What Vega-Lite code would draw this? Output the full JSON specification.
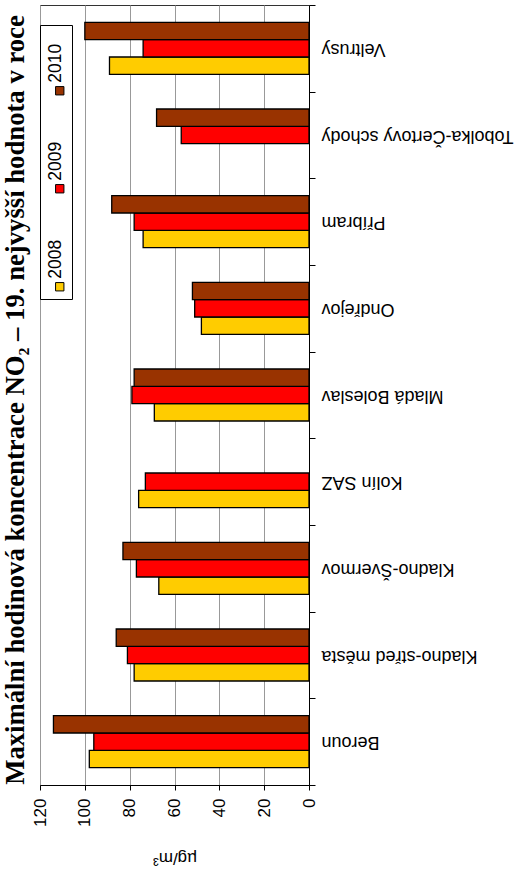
{
  "$schema": "https://vega.github.io/schema/vega-lite/v6.json",
  "width": 269,
  "height": 780,
  "autosize": {"type": "none"},
  "padding": {"left": 40, "top": 5, "right": 216, "bottom": 87},
  "background": "white",
  "title": {
    "text": "Maximální hodinová koncentrace NO₂ – 19. nejvyšší hodnota v roce",
    "orient": "left",
    "anchor": "middle",
    "font": "Liberation Serif",
    "fontSize": 26.7,
    "fontWeight": "bold",
    "color": "black",
    "offset": 1,
    "dx": -5
  },
  "config": {
    "font": "Liberation Sans",
    "view": {"stroke": "#333333", "strokeWidth": 1}
  },
  "data": {
    "values": [
      {"station": "Beroun", "year": "2008", "value": 98},
      {"station": "Beroun", "year": "2009", "value": 96},
      {"station": "Beroun", "year": "2010", "value": 114},
      {"station": "Kladno-střed města", "year": "2008", "value": 78},
      {"station": "Kladno-střed města", "year": "2009", "value": 81},
      {"station": "Kladno-střed města", "year": "2010", "value": 86},
      {"station": "Kladno-Švermov", "year": "2008", "value": 67},
      {"station": "Kladno-Švermov", "year": "2009", "value": 77},
      {"station": "Kladno-Švermov", "year": "2010", "value": 83},
      {"station": "Kolín SAZ", "year": "2008", "value": 76},
      {"station": "Kolín SAZ", "year": "2009", "value": 73},
      {"station": "Mladá Boleslav", "year": "2008", "value": 69},
      {"station": "Mladá Boleslav", "year": "2009", "value": 79},
      {"station": "Mladá Boleslav", "year": "2010", "value": 78},
      {"station": "Ondřejov", "year": "2008", "value": 48},
      {"station": "Ondřejov", "year": "2009", "value": 51},
      {"station": "Ondřejov", "year": "2010", "value": 52},
      {"station": "Příbram", "year": "2008", "value": 74},
      {"station": "Příbram", "year": "2009", "value": 78},
      {"station": "Příbram", "year": "2010", "value": 88},
      {"station": "Tobolka-Čertovy schody", "year": "2009", "value": 57},
      {"station": "Tobolka-Čertovy schody", "year": "2010", "value": 68},
      {"station": "Veltrusy", "year": "2008", "value": 89},
      {"station": "Veltrusy", "year": "2009", "value": 74},
      {"station": "Veltrusy", "year": "2010", "value": 100}
    ]
  },
  "mark": {"type": "bar", "stroke": "black", "strokeWidth": 1.3},
  "encoding": {
    "y": {
      "field": "station",
      "type": "nominal",
      "sort": ["Veltrusy", "Tobolka-Čertovy schody", "Příbram", "Ondřejov", "Mladá Boleslav", "Kolín SAZ", "Kladno-Švermov", "Kladno-střed města", "Beroun"],
      "scale": {"paddingInner": 0, "paddingOuter": 0},
      "axis": {
        "orient": "right",
        "title": null,
        "labelAngle": 180,
        "labelFontSize": 18,
        "labelColor": "black",
        "labelPadding": 6,
        "labelLimit": 0,
        "domainColor": "black",
        "tickColor": "black",
        "tickSize": 6,
        "tickBand": "extent",
        "grid": false
      }
    },
    "yOffset": {
      "field": "year",
      "type": "nominal",
      "sort": "descending",
      "scale": {"paddingInner": 0, "paddingOuter": 1.05}
    },
    "x": {
      "field": "value",
      "type": "quantitative",
      "scale": {"domain": [0, 120], "reverse": true, "nice": false},
      "axis": {
        "orient": "bottom",
        "values": [0, 20, 40, 60, 80, 100, 120],
        "labelAngle": -90,
        "labelFontSize": 17,
        "labelColor": "black",
        "labelPadding": 8,
        "labelFlush": false,
        "domainColor": "black",
        "tickColor": "black",
        "tickSize": 5,
        "grid": true,
        "gridColor": "#999999",
        "gridWidth": 1,
        "title": "µg/m³",
        "titleAngle": 180,
        "titleBaseline": "bottom",
        "titleFontSize": 17,
        "titleFontWeight": "normal",
        "titleColor": "black",
        "titlePadding": 22
      }
    },
    "color": {
      "field": "year",
      "type": "nominal",
      "scale": {"domain": ["2010", "2009", "2008"], "range": ["#993300", "#FF0000", "#FFCC00"]},
      "legend": {
        "orient": "none",
        "legendX": 0,
        "legendY": 20,
        "direction": "vertical",
        "title": " ",
        "titleFontSize": 20,
        "titlePadding": 31,
        "symbolType": "square",
        "symbolSize": 70,
        "symbolOffset": 5,
        "symbolStrokeColor": "black",
        "symbolStrokeWidth": 1,
        "labelFontSize": 17.5,
        "labelColor": "black",
        "labelOffset": 0,
        "labelLimit": 0,
        "rowPadding": 44,
        "padding": 6,
        "strokeColor": "black",
        "fillColor": "white",
        "encode": {
          "labels": {
            "update": {
              "angle": {"value": -90},
              "dx": {"value": 8},
              "dy": {"value": -13}
            }
          }
        }
      }
    }
  }
}
